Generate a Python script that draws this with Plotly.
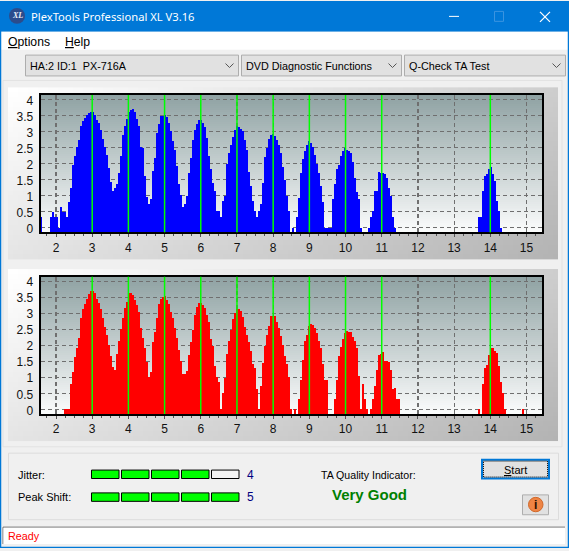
import numpy as np
import plotly.graph_objects as go

W, H = 569, 551

# bar heights, one per 2px column, None = no bar
jitter_vals = [
    .32, None, None, None, None, .32, .5, .32, .32, 0, .63, .5, .5, .32, .8, 1.25, 1.95, 2.23, 2.51, 2.75,
    3.19, 3.32, 3.44, 3.52, 3.59, 3.61, 3.61, 3.52, 3.37, 3.27, 3.06, 2.77, 2.51, 2.28, 1.87, 1.44, 1.13, 1.25, 1.35, 1.72,
    2.23, 2.9, 3.19, 3.4, 3.61, 3.67, 3.7, 3.61, 3.4, 3.19, 2.51, 2.49, 1.61, .97, .73, .91, 1.77, 2.16, 2.96, 3.24,
    3.5, 3.5, 3.52, 3.47, 3.27, 3.01, 2.7, 2.44, 1.92, 1.37, 1.02, .63, .73, .99, 1.72, 2.16, 2.75, 3.06, 3.24, 3.35,
    3.35, 3.27, 3.13, 2.8, 2.25, 1.84, 1.41, 1.15, .51, .51, .32, .84, .99, 1.99, 2.34, 2.59, 2.83, 3.06, 3.16, 3.14,
    3.09, 3.01, 2.75, 2.44, 1.75, 1.3, .84, .51, .32, .51, .73, 1.41, 2.21, 2.49, 2.78, 2.9, 2.94, 2.87, 2.75, 2.57,
    2.34, 1.9, 1.48, .99, .51, None, 0, None, .32, .94, 1.72, 2.13, 2.39, 2.59, 2.7, 2.65, 2.51, 2.28, 1.99, 1.72,
    1.3, .79, 0, 0, 0, 0, .91, 1.37, 1.82, 1.95, 2.23, 2.39, 2.49, 2.44, 2.39, 2.32, 2.06, 1.56, 1.1, .91,
    0, None, None, None, 0, .32, .51, 1.13, 1.13, 1.75, 1.72, 1.7, 1.66, 1.56, 1.25, .99, .32, 0,
] + [None] * 41 + [
    .32, .32, 1.15, 1.61, 1.68, 1.82, 1.9, 1.66, 1.46, .84, .51, 0,
] + [None] * 20

peak_vals = [None] * 12 + [
    0, 0, 0, .78, 1.16, 1.63, 1.91, 2.22, 2.86, 3.12, 3.29, 3.46, 3.6, 3.7, 3.7, 3.64, 3.46, 3.31, 3.12, 2.84,
    2.58, 2.33, 2.02, 1.65, 1.31, 1.22, 1.74, 2.12, 2.5, 2.84, 3.15, 3.36, 3.64, 3.64, 3.57, 3.41, 3.26, 3.05, 2.53, 2.22,
    1.91, 1.47, 1.0, 1.16, 2.09, 2.43, 2.84, 3.29, 3.46, 3.51, 3.53, 3.41, 3.29, 3.05, 2.84, 2.53, 2.22, 1.86, 1.5, 1.09,
    1.09, 1.19, 1.71, 2.09, 2.48, 2.95, 3.2, 3.31, 3.33, 3.26, 3.18, 2.95, 2.74, 2.2, 1.99, 1.34, 1.0, .85, 0, .5,
    .98, 1.74, 2.12, 2.48, 2.81, 3.02, 3.13, 3.12, 3.08, 2.89, 2.58, 2.33, 2.09, 1.81, 1.43, 1.29, .64, 0, .72, 1.45,
    1.98, 2.33, 2.61, 2.91, 2.91, 2.91, 2.74, 2.53, 2.29, 2.02, 1.65, 1.4, 1.0, 0, None, 0, None, .33, .93, 1.55,
    2.12, 2.33, 2.6, 2.67, 2.64, 2.53, 2.38, 2.12, 1.91, 1.4, .91, .91, None, None, None, .33, .91, 1.67, 1.96, 2.19,
    2.38, 2.46, 2.43, 2.4, 2.27, 2.12, 1.91, 1.05, 0, .78, .31, 0, None, 0, .31, .72, 1.24, 1.71, 1.73, 1.78,
    1.5, 1.5, 1.47, 1.24, .62, .67, .31, .31,
] + [None] * 39 + [
    0, None, .78, 1.29, 1.37, 1.71, 1.91, 1.93, 1.81, 1.76, 1.34, .85, .5, 0,
] + [None] * 8 + [0] + [None] * 9

x_ticks = list(range(2, 16))
y_ticks = [0, .5, 1, 1.5, 2, 2.5, 3, 3.5, 4]
green_marks = [3, 4, 5, 6, 7, 8, 9, 10, 11, 14]

jitter_level, peak_level, segments = 4, 5, 5
combo_labels = ["HA:2 ID:1  PX-716A", "DVD Diagnostic Functions", "Q-Check TA Test"]

UI_FONT = "Liberation Sans"
TITLE_FONT = "Noto Sans"
BAR_X0 = 1.5716
BAR_DX = 0.05528
BAR_BASE = -0.2
X_RANGE = [1.577, 15.42]
Y_RANGE = [-0.146, 4.143]

fig = go.Figure()


def rect(x0, y0, x1, y1, fill=None, line=None, lw=1, layer="above", dash=None):
    fig.add_shape(type="rect", xref="x", yref="y", x0=x0, y0=y0, x1=x1, y1=y1, layer=layer,
                  fillcolor=fill if fill else "rgba(0,0,0,0)",
                  line=dict(color=line if line else "rgba(0,0,0,0)", width=lw if line else 0, dash=dash))


def seg(x0, y0, x1, y1, color, lw=1):
    fig.add_shape(type="line", xref="x", yref="y", x0=x0, y0=y0, x1=x1, y1=y1,
                  line=dict(color=color, width=lw))


def label(x, y, text, size=11, color="#000000", anchor="left", family=UI_FONT):
    fig.add_annotation(x=x, y=y, xref="x", yref="y", text=text, showarrow=False, xanchor=anchor,
                       yanchor="middle", borderpad=0, xshift=-1 if anchor == "left" else 0,
                       font=dict(family=family, size=size, color=color))


# backdrop subplot, its axes run in window pixels
def panel_gradient(x0, y0, x1, y1):
    xs = np.linspace(x0, x1, 111)
    ys = np.linspace(y0, y1, 36)
    u, v = np.meshgrid((xs[:-1] - x0) / (x1 - x0), (ys[:-1] - y0) / (y1 - y0))
    fig.add_heatmap(x=xs, y=ys, z=0.65 * u + 0.35 * v, zmin=0, zmax=1, showscale=False,
                    colorscale=[[0, "#ffffff"], [1, "#b2b2b2"]], hoverinfo="skip", xaxis="x", yaxis="y")


def plot_gradient(x0, y0, x1, y1):
    ys = np.arange(y0, y1 + 2, 2)
    z = [[i] for i in range(len(ys) - 1)]
    fig.add_heatmap(x=[x0, x1], y=ys, z=z, showscale=False, hoverinfo="skip", xaxis="x", yaxis="y",
                    colorscale=[[0, "#8fa2a3"], [1, "#fbfcfc"]])


panel_gradient(8, 87, 558, 260)
panel_gradient(8, 270, 558, 443)
plot_gradient(40, 94, 542, 234)
plot_gradient(40, 277, 542, 417)

# the two charts
fig.add_bar(x0=BAR_X0, dx=BAR_DX, y=[None if v is None else v - BAR_BASE for v in jitter_vals], base=BAR_BASE,
            marker=dict(color="#0000ff", line_width=0), xaxis="x2", yaxis="y2", hoverinfo="skip")
fig.add_bar(x0=BAR_X0, dx=BAR_DX, y=[None if v is None else v - BAR_BASE for v in peak_vals], base=BAR_BASE,
            marker=dict(color="#ff0000", line_width=0), xaxis="x3", yaxis="y3", hoverinfo="skip", cliponaxis=False)

pixel_axis = dict(visible=False, fixedrange=True)
x_axis = dict(range=X_RANGE, tickvals=x_ticks, ticks="outside", ticklen=3, tickcolor="#555555", tickwidth=1,
              showline=True, linecolor="#000000", linewidth=2, mirror=True, showgrid=True,
              gridcolor="#6f6f6f", griddash="4px,3px", gridwidth=1.2, zeroline=False, fixedrange=True,
              tickfont=dict(family=UI_FONT, size=12, color="#111111"),
              minor=dict(dtick=0.25, ticks="outside", ticklen=2, tickcolor="#555555", showgrid=False))
y_axis = dict(range=Y_RANGE, tickvals=y_ticks, ticks="", showline=True, linecolor="#000000", linewidth=2,
              mirror=True, showgrid=True, gridcolor="#6f6f6f", griddash="4px,3px", gridwidth=1.2,
              zeroline=False, fixedrange=True, ticklabelstandoff=3, ticklabelshift=1,
              tickfont=dict(family=UI_FONT, size=12, color="#111111"))

fig.update_layout(
    width=W, height=H, margin=dict(l=0, r=0, t=0, b=0), autosize=False, showlegend=False,
    paper_bgcolor="#f0f0f0", plot_bgcolor="rgba(0,0,0,0)", barmode="overlay", bargap=0,
    xaxis=dict(domain=[0, 1], range=[0, W], **pixel_axis),
    yaxis=dict(domain=[0, 1], range=[H, 0], **pixel_axis),
    xaxis2=dict(domain=[40.7 / W, 541.7 / W], anchor="y2", **x_axis),
    yaxis2=dict(domain=[1 - 233 / H, 1 - 94.7 / H], anchor="x2", **y_axis),
    xaxis3=dict(domain=[40.7 / W, 541.7 / W], anchor="y3", layer="below traces", **x_axis),
    yaxis3=dict(domain=[1 - 416 / H, 1 - 277.7 / H], anchor="x3", **y_axis),
)

for axis_name, y_name in (("x2", "y2"), ("x3", "y3")):
    for mark in green_marks:
        fig.add_shape(type="line", xref=axis_name, yref=y_name + " domain", x0=mark, x1=mark, y0=0, y1=1,
                      line=dict(color="#00ff00", width=1.5))

# window frame, title bar, menu
rect(0, 0, W, 31, fill="#0078d7", layer="below")
rect(1, 31, W - 1, 49, fill="#ffffff", layer="below")
rect(0.5, 0.5, W - 0.5, H - 0.5, line="#0078d7", lw=1.5)
rect(3, 80, 562, 449, line="#e2e2e2", layer="below")
fig.add_shape(type="circle", xref="x", yref="y", x0=9, y0=7, x1=25, y1=23, fillcolor="#2b4c8c", line_width=0)
label(17, 15, "<i><b>XL</b></i>", 8, "#e8eef8", "center", "Liberation Serif")
label(30.5, 15.5, "PlexTools Professional XL V3.16", 11.2, "#ffffff", family=TITLE_FONT)
seg(449, 15.5, 459, 15.5, "#ffffff")
rect(494.5, 10.5, 503.5, 20.5, line="#3a94e0")
seg(540, 11, 550, 21, "#ffffff", 1.2)
seg(540, 21, 550, 11, "#ffffff", 1.2)
label(8, 41, "<u>O</u>ptions", 12.2)
label(64.5, 41, "<u>H</u>elp", 12.2)

# toolbar combos
for (x0, x1), text in zip([(25.5, 238.5), (241.5, 401.5), (404.5, 565.5)], combo_labels):
    rect(x0, 54.5, x1, 75.5, fill="#e1e1e1", line="#adadad", lw=1)
    label(x0 + 4, 65, text, 10.8)
    fig.add_shape(type="path", xref="x", yref="y", line=dict(color="#555555", width=1),
                  path=f"M {x1 - 13} 63 L {x1 - 9} 67 L {x1 - 5} 63")

# bottom box
rect(8.5, 455.5, 558.5, 522.5, line="#dcdcdc", lw=1)
label(17.5, 477, "Jitter:")
label(17.5, 500, "Peak Shift:")
for row_y, level, value in ((472.5, jitter_level, "4"), (495.5, peak_level, "5")):
    for n in range(segments):
        x0 = 91.5 + n * 30
        rect(x0, row_y, x0 + 27.5, row_y + 8.5, fill="#00ff00" if n < level else "#f4f4f4", line="#000000", lw=1)
    label(247, row_y + 4.5, value, 12, "#000080")
label(321, 477, "TA Quality Indicator:", 10.6)
label(369, 497, "<b>Very Good</b>", 15, "#008000", "center")

rect(482, 462, 549, 481, fill="#e1e1e1", line="#0078d7", lw=2)
rect(483.5, 463.5, 547.5, 479.5, line="#000000", lw=1, dash="1px,1px")
label(515.5, 472, "<u>S</u>tart", 11, "#000000", "center")
rect(522.5, 497.5, 548.5, 517.5, fill="#e1e1e1", line="#adadad", lw=1)
fig.add_shape(type="circle", xref="x", yref="y", x0=528.5, y0=500, x1=543, y1=514.5,
              fillcolor="#ee8444", line=dict(color="#d0682a", width=1))
label(535.7, 507.5, "<b>i</b>", 12, "#2a1000", "center")

# status bar
seg(3, 530, 565, 530, "#696969", 1)
seg(3, 530, 3, 547, "#696969", 1)
rect(3.5, 530.5, 565, 547, fill="#ffffff")
label(7.5, 539, "Ready", 10.8, "#ff0000")

fig.write_html("out.html", config=dict(displayModeBar=False, staticPlot=True),
               post_script="document.body.style.margin='0';document.documentElement.style.overflow='hidden';")
